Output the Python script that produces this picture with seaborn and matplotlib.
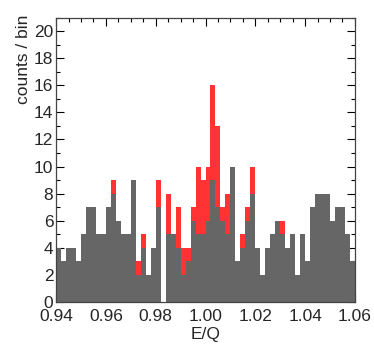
import numpy as np
import pandas as pd
import matplotlib
matplotlib.use("Agg")
import matplotlib.pyplot as plt
from matplotlib.ticker import MultipleLocator, FormatStrFormatter
import seaborn as sns

# histogram binning (60 bins of 0.002 in E/Q)
bin_lo, bin_hi, n_bins = 0.94, 1.06, 60

# counts per bin
gray_counts = [4, 3, 4, 4, 3, 5, 7, 7, 5, 5,
               7, 8, 6, 5, 5, 9, 2, 4, 2, 4,
               7, 0, 5, 5, 4, 2, 3, 6, 5, 5,
               6, 9, 7, 6, 5, 10, 3, 4, 6, 8,
               4, 2, 4, 5, 6, 5, 4, 5, 2, 5,
               3, 7, 8, 8, 8, 6, 7, 7, 5, 3]
red_counts = [0, 0, 0, 0, 0, 0, 0, 0, 0, 0,
              0, 1, 0, 0, 0, 0, 1, 1, 0, 0,
              2, 0, 3, 0, 3, 2, 1, 1, 5, 4,
              4, 7, 6, 1, 3, 0, 0, 1, 1, 2,
              0, 0, 0, 0, 0, 1, 0, 0, 0, 0,
              0, 0, 0, 0, 0, 0, 0, 0, 0, 0]

width = (bin_hi - bin_lo) / n_bins
centers = bin_lo + width * (np.arange(n_bins) + 0.5)
df = pd.DataFrame({"eq": centers,
                   "gray": gray_counts,
                   "total": np.array(gray_counts) + np.array(red_counts)})

sns.set_style("ticks")
plt.rcParams["font.family"] = ["Liberation Sans", "DejaVu Sans"]

fig = plt.figure(figsize=(3.74, 3.59), dpi=100)
ax = fig.add_axes([0.150, 0.159, 0.799, 0.792])

# red = all entries, gray drawn on top
sns.histplot(data=df, x="eq", weights="total", bins=n_bins,
             binrange=(bin_lo, bin_hi), element="step", fill=True,
             color="#ff3333", alpha=1, linewidth=0, ax=ax)
sns.histplot(data=df, x="eq", weights="gray", bins=n_bins,
             binrange=(bin_lo, bin_hi), element="step", fill=True,
             color="#666666", alpha=1, linewidth=0, ax=ax)

ax.set_xlim(bin_lo, bin_hi)
ax.set_ylim(0, 21)
ax.xaxis.set_major_locator(MultipleLocator(0.02))
ax.xaxis.set_minor_locator(MultipleLocator(0.005))
ax.yaxis.set_major_locator(MultipleLocator(2))
ax.yaxis.set_minor_locator(MultipleLocator(1))
ax.xaxis.set_major_formatter(FormatStrFormatter("%.2f"))

ax.tick_params(which="both", direction="in", top=True, right=True,
               labelsize=12.5, color="black")
ax.tick_params(axis="x", pad=5)
ax.tick_params(axis="y", pad=2)
ax.tick_params(which="major", length=6, width=0.8)
ax.tick_params(which="minor", length=3, width=0.8)
for s in ax.spines.values():
    s.set_color("#444444")
    s.set_linewidth(0.9)

ax.set_xlabel("E/Q", fontsize=12.5, labelpad=2)
ax.set_ylabel("counts / bin", fontsize=12.5, ha="right")
ax.yaxis.set_label_coords(-0.085, 1.01)

fig.savefig("out.png", dpi=100)
